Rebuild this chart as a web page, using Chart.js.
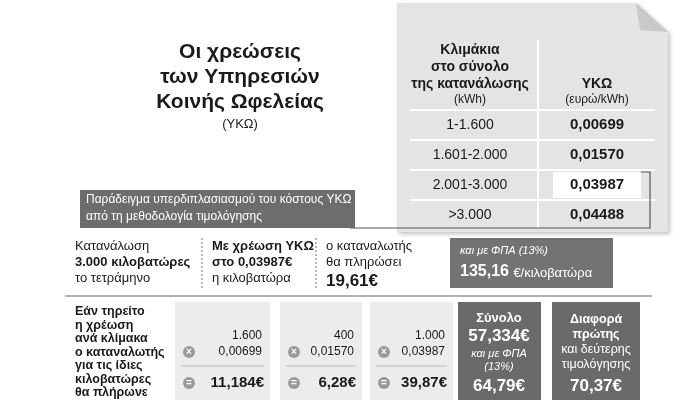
<!DOCTYPE html>
<html><head><meta charset="utf-8">
<script src="https://cdn.jsdelivr.net/npm/chart.js@4"></script>
<style>html,body{margin:0;background:#fff}#wrap{width:700px;height:404px}</style>
</head><body><div id="wrap"><canvas id="c"></canvas></div>
<script>
const titleLines = ["Οι χρεώσεις", "των Υπηρεσιών", "Κοινής Ωφελείας"];
const tiers = ["1-1.600", "1.601-2.000", "2.001-3.000", ">3.000"];
const rates = ["0,00699", "0,01570", "0,03987", "0,04488"];
const tierKwh = ["1.600", "400", "1.000"];
const tierRate = ["0,00699", "0,01570", "0,03987"];
const tierCost = ["11,184€", "6,28€", "39,87€"];
const totals = ["57,334€", "64,79€", "70,37€"];
const F = "'Liberation Sans', Arial, sans-serif";

function txt(ctx, s, x, y, size, opt = {}) {
  ctx.font = `${opt.italic ? "italic " : ""}${opt.bold ? "bold " : ""}${size}px ${F}`;
  ctx.fillStyle = opt.color || "#1a1a1a";
  ctx.textAlign = opt.align || "left";
  ctx.textBaseline = "middle";
  ctx.fillText(s, x, y);
  return ctx.measureText(s).width;
}
function box(ctx, x, y, w, h, c) { ctx.fillStyle = c; ctx.fillRect(x, y, w, h); }
function circ(ctx, x, y, sym) {
  ctx.fillStyle = "#9a9a9a"; ctx.beginPath(); ctx.arc(x, y, 6, 0, 7); ctx.fill();
  txt(ctx, sym, x, y, 10, { bold: true, color: "#fff", align: "center" });
}

const infographic = {
  id: "infographic",
  afterDraw(chart) {
    const ctx = chart.ctx;
    // title
    titleLines.forEach((l, i) => txt(ctx, l, 240, 52 + i * 25, 21, { bold: true, align: "center" }));
    txt(ctx, "(ΥΚΩ)", 240, 124, 13, { align: "center" });
    // folded panel
    ctx.fillStyle = "#e4e4e4";
    ctx.shadowColor = "rgba(0,0,0,0.25)"; ctx.shadowBlur = 4; ctx.shadowOffsetX = 2; ctx.shadowOffsetY = 2;
    ctx.beginPath(); ctx.moveTo(397, 3); ctx.lineTo(636, 3); ctx.lineTo(668, 32); ctx.lineTo(668, 232); ctx.lineTo(397, 232); ctx.closePath(); ctx.fill();
    ctx.shadowColor = "transparent";
    ctx.fillStyle = "#c9c9c9"; ctx.beginPath(); ctx.moveTo(636, 3); ctx.lineTo(640, 30); ctx.lineTo(668, 32); ctx.closePath(); ctx.fill();
    // table header
    ["Κλιμάκια", "στο σύνολο", "της κατανάλωσης"].forEach((l, i) => txt(ctx, l, 470, 50 + i * 17, 14, { bold: true, align: "center" }));
    txt(ctx, "(kWh)", 470, 100, 12, { align: "center" });
    txt(ctx, "ΥΚΩ", 597, 84, 14, { bold: true, align: "center" });
    txt(ctx, "(ευρώ/kWh)", 597, 100, 12, { align: "center" });
    ctx.strokeStyle = "#fff"; ctx.lineWidth = 2;
    ctx.beginPath(); ctx.moveTo(538, 40); ctx.lineTo(538, 228); ctx.stroke();
    tiers.forEach((t, i) => {
      const y = 125 + i * 30;
      ctx.beginPath(); ctx.moveTo(410, y - 15); ctx.lineTo(655, y - 15); ctx.stroke();
      txt(ctx, t, 470, y, 14, { align: "center" });
      if (i === 2) box(ctx, 553, y - 13, 88, 26, "#fff");
      txt(ctx, rates[i], 597, y, 15, { bold: true, align: "center" });
    });
    // connector
    ctx.strokeStyle = "#555"; ctx.lineWidth = 1.2;
    ctx.beginPath(); ctx.moveTo(641, 172); ctx.lineTo(650, 172); ctx.lineTo(650, 228); ctx.lineTo(350, 228); ctx.stroke();
    // banner
    box(ctx, 80, 190, 275, 38, "#6d6d6d");
    txt(ctx, "Παράδειγμα υπερδιπλασιασμού του κόστους ΥΚΩ", 86, 200, 12, { color: "#fff" });
    txt(ctx, "από τη μεθοδολογία τιμολόγησης", 86, 217, 12, { color: "#fff" });
    // row 2
    txt(ctx, "Κατανάλωση", 75, 246, 13);
    txt(ctx, "3.000 κιλοβατώρες", 75, 262, 13, { bold: true });
    txt(ctx, "το τετράμηνο", 75, 278, 13);
    ctx.setLineDash([2, 2]); ctx.strokeStyle = "#888";
    [202, 316].forEach(x => { ctx.beginPath(); ctx.moveTo(x, 238); ctx.lineTo(x, 288); ctx.stroke(); });
    ctx.setLineDash([]);
    txt(ctx, "Με χρέωση ΥΚΩ", 212, 246, 13, { bold: true });
    txt(ctx, "στο 0,03987€", 212, 262, 13, { bold: true });
    txt(ctx, "η κιλοβατώρα", 212, 278, 13);
    txt(ctx, "ο καταναλωτής", 326, 246, 13);
    txt(ctx, "θα πληρώσει", 326, 262, 13);
    txt(ctx, "19,61€", 326, 281, 17, { bold: true });
    box(ctx, 450, 238, 163, 50, "#737373");
    txt(ctx, "και με ΦΠΑ (13%)", 460, 251, 11, { italic: true, color: "#fff" });
    const w = txt(ctx, "135,16 ", 460, 272, 16, { bold: true, color: "#fff" });
    txt(ctx, "€/κιλοβατώρα", 460 + w, 273, 13, { color: "#fff" });
    ctx.strokeStyle = "#666"; ctx.lineWidth = 1;
    ctx.beginPath(); ctx.moveTo(65, 296); ctx.lineTo(652, 296); ctx.stroke();
    // row 3
    ["Εάν τηρείτο", "η χρέωση", "ανά κλίμακα", "ο καταναλωτής", "για τις ίδιες", "κιλοβατώρες", "θα πλήρωνε"]
      .forEach((l, i) => txt(ctx, l, 75, 312 + i * 13.5, 12.5, { bold: true }));
    const cols = [[175, 95], [280, 82], [370, 83]];
    cols.forEach(([x, w], i) => {
      box(ctx, x, 302, w, 98, "#ececec");
      txt(ctx, tierKwh[i], x + w - 8, 336, 12, { align: "right" });
      circ(ctx, x + 14, 352, "×");
      txt(ctx, tierRate[i], x + w - 8, 352, 12, { align: "right" });
      ctx.strokeStyle = "#bbb"; ctx.beginPath(); ctx.moveTo(x + 6, 366); ctx.lineTo(x + w - 6, 366); ctx.stroke();
      circ(ctx, x + 14, 383, "=");
      txt(ctx, tierCost[i], x + w - 6, 383, 15, { bold: true, align: "right" });
    });
    box(ctx, 458, 302, 83, 98, "#6a6a6a");
    txt(ctx, "Σύνολο", 499, 318, 13, { bold: true, color: "#fff", align: "center" });
    txt(ctx, totals[0], 499, 336, 17, { bold: true, color: "#fff", align: "center" });
    txt(ctx, "και με ΦΠΑ", 499, 354, 11, { italic: true, color: "#fff", align: "center" });
    txt(ctx, "(13%)", 499, 367, 11, { italic: true, color: "#fff", align: "center" });
    txt(ctx, totals[1], 499, 386, 17, { bold: true, color: "#fff", align: "center" });
    box(ctx, 552, 302, 88, 98, "#6a6a6a");
    ["Διαφορά", "πρώτης", "και δεύτερης", "τιμολόγησης"].forEach((l, i) =>
      txt(ctx, l, 596, 320 + i * 15, 12.5, { bold: i < 2, color: "#fff", align: "center" }));
    txt(ctx, totals[2], 596, 386, 17, { bold: true, color: "#fff", align: "center" });
  }
};

new Chart(document.getElementById("c"), {
  type: "bar",
  data: { labels: tiers, datasets: [{ data: [], backgroundColor: "transparent" }] },
  options: {
    responsive: true, maintainAspectRatio: false, animation: false,
    plugins: { legend: { display: false }, tooltip: { enabled: false } },
    scales: { x: { display: false }, y: { display: false } }
  },
  plugins: [infographic]
});
</script></body></html>
